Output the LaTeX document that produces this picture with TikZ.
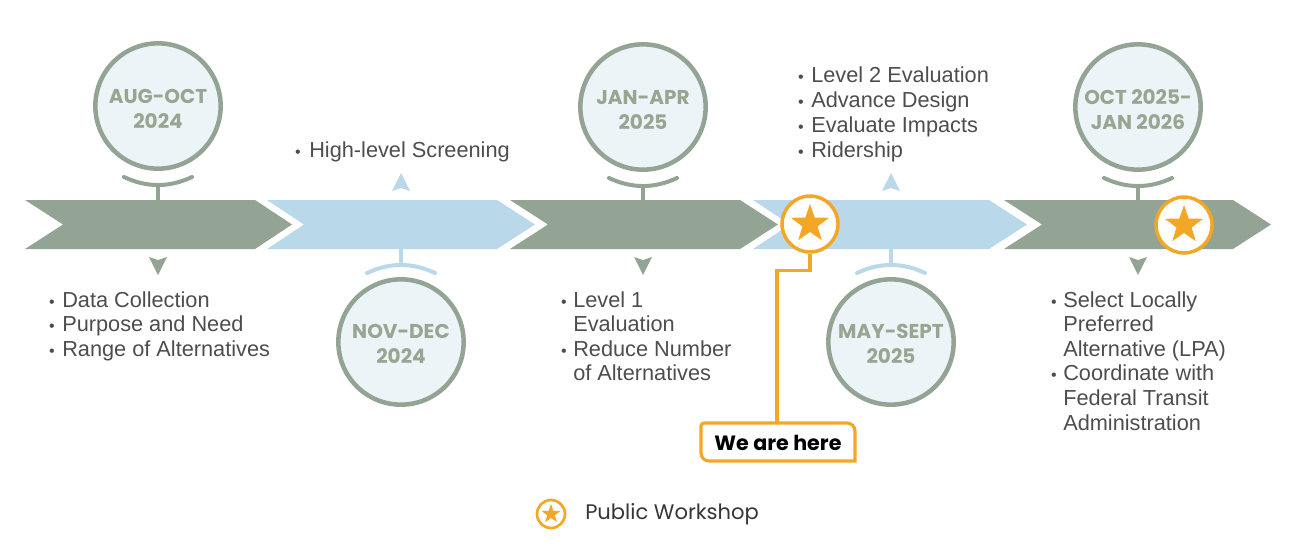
\documentclass[tikz,border=0pt]{standalone}
\usepackage{fontspec}
\setmainfont{Liberation Sans}
\newfontfamily\gothic{Poppins}
\usetikzlibrary{shapes.geometric,calc}
\definecolor{cgray}{HTML}{93A394}
\definecolor{cblue}{HTML}{B9D8EA}
\definecolor{cfill}{HTML}{ECF4F8}
\definecolor{cdate}{HTML}{97A591}
\definecolor{corange}{HTML}{F2A726}
\definecolor{ctext}{HTML}{4D4D4D}
\tikzset{
 datec/.style={circle, draw=cgray, fill=cfill, line width=3.4pt, minimum size=94pt, inner sep=0pt},
 datet/.style={inner sep=0pt, align=center, text=cdate, font=\gothic\bfseries\fontsize{15}{18.75}\selectfont},
 starc/.style={circle, draw=corange, fill=white, line width=2.6pt, minimum size=42pt, inner sep=0pt},
 starg/.style={star, star points=5, star point ratio=2.5, fill=corange, inner sep=0pt, minimum size=30pt},
 txt/.style={anchor=base west, inner sep=0pt, text=ctext, font=\fontsize{16.3}{18}\selectfont},
 bul/.style={anchor=base, inner sep=0pt, text=ctext, font=\fontsize{12}{12}\selectfont},
 stemline/.style={line width=3pt, line cap=round},
 orangeline/.style={corange, line width=2.3pt},
}
\newcommand\chev[5]{\fill[#5] (#1,200) -- (#3,200) -- (#4,224.5) -- (#3,249) -- (#1,249) -- (#2,224.5) -- cycle;}
\newcommand\stemabove[3]{%
 \draw[#3, stemline] (#1-34,#2+71) .. controls (#1-11.3,#2+81.7) and (#1+11.3,#2+81.7) .. (#1+34,#2+71);
 \draw[#3, line width=3pt] (#1,#2+79) -- (#1,201);}
\newcommand\stembelow[3]{%
 \draw[#3, stemline] (#1-34,#2-69) .. controls (#1-11.3,#2-79.7) and (#1+11.3,#2-79.7) .. (#1+34,#2-69);
 \draw[#3, line width=3pt] (#1,#2-77) -- (#1,248);}
\newcommand\downarr[2]{\fill[#2] (#1-9,257) -- (#1,260) -- (#1+9,257) -- (#1,275) -- cycle;}
\newcommand\uparr[2]{\fill[#2] (#1-9,191) -- (#1,188) -- (#1+9,191) -- (#1,173) -- cycle;}
\begin{document}
\begin{tikzpicture}[x=0.75pt,y=-0.75pt]
\useasboundingbox (0,0) rectangle (1301,554);
% chevrons
\chev{25}{63}{255}{292}{cgray}
\chev{267}{304}{497}{535}{cblue}
\chev{510}{548}{740}{778}{cgray}
\chev{753}{790}{989}{1027}{cblue}
\chev{1004}{1042}{1233}{1271}{cgray}
% stems
\stemabove{158}{106}{cgray}
\stembelow{401}{342}{cblue}
\stemabove{643}{107}{cgray}
\stembelow{891}{342}{cblue}
\stemabove{1138}{107}{cgray}
% date circles
\node[datec] (c1) at (158,106) {};
\node[datet] (d1) at (158,109) {AUG-OCT\\2024};
\node[datec] (c2) at (401,342) {};
\node[datet] (d2) at (401,344) {NOV-DEC\\2024};
\node[datec] (c3) at (643,107) {};
\node[datet] (d3) at (643,110) {JAN-APR\\2025};
\node[datec] (c4) at (891,342) {};
\node[datet] (d4) at (891,344) {MAY-SEPT\\2025};
\node[datec] (c5) at (1138,107) {};
\node[datet] (d5) at (1138,110) {OCT 2025-\\JAN 2026};
% arrows
\downarr{158}{cgray}
\uparr{401}{cblue}
\downarr{643}{cgray}
\uparr{891}{cblue}
\downarr{1138}{cgray}
% column 1
\node[bul] (b11) at (52,307) {•};
\node[txt] (t11) at (62,307) {Data Collection};
\node[bul] (b12) at (52,331.5) {•};
\node[txt] (t12) at (62,331.5) {Purpose and Need};
\node[bul] (b13) at (52,356) {•};
\node[txt] (t13) at (62,356) {Range of Alternatives};
% column 2
\node[bul] (b21) at (298,157) {•};
\node[txt] (t21) at (309,157) {High-level Screening};
% column 3
\node[bul] (b31) at (564,307) {•};
\node[txt] (t31) at (573,307) {Level 1};
\node[txt] (t32) at (573,331.6) {Evaluation};
\node[bul] (b33) at (564,356.2) {•};
\node[txt] (t33) at (573,356.2) {Reduce Number};
\node[txt] (t34) at (573,380.8) {of Alternatives};
% column 4
\node[bul] (b41) at (801,82) {•};
\node[txt] (t41) at (811,82) {Level 2 Evaluation};
\node[bul] (b42) at (801,107) {•};
\node[txt] (t42) at (811,107) {Advance Design};
\node[bul] (b43) at (801,132) {•};
\node[txt] (t43) at (811,132) {Evaluate Impacts};
\node[bul] (b44) at (801,157) {•};
\node[txt] (t44) at (811,157) {Ridership};
% column 5
\node[bul] (b51) at (1054,307) {•};
\node[txt] (t51) at (1063,307) {Select Locally};
\node[txt] (t52) at (1063,331.6) {Preferred};
\node[txt] (t53) at (1063,356.2) {Alternative (LPA)};
\node[bul] (b54) at (1054,380.8) {•};
\node[txt] (t54) at (1063,380.8) {Coordinate with};
\node[txt] (t55) at (1063,405.4) {Federal Transit};
\node[txt] (t56) at (1063,430) {Administration};
% workshop stars
\node[starc] (s1) at (810,224) {};
\node[starg] (g1) at (s1) {};
\node[starc] (s2) at (1184,225) {};
\node[starg] (g2) at (s2) {};
% we are here
\node[inner sep=0pt, font=\gothic\bfseries\fontsize{15.5}{18}\selectfont, text=black] (here) at (778,443) {We are here};
\coordinate (boxtop) at (777,423);
\draw[orangeline] (704,423) -- (847,423) arc[start angle=-90, end angle=0, radius=8] -- (855,461) -- (709,461) arc[start angle=90, end angle=180, radius=8] -- (701,426) arc[start angle=180, end angle=270, radius=3] -- cycle;
\draw[orangeline] (s1.south) -- ++(0,17) -| (boxtop);
% legend
\node[circle, draw=corange, fill=white, line width=2pt, minimum size=21pt, inner sep=0pt] (ls) at (551,514) {};
\node[star, star points=5, star point ratio=2.5, fill=corange, inner sep=0pt, minimum size=15pt] (lg) at (ls) {};
\node[anchor=west, inner sep=0pt, font=\gothic\fontsize{15.8}{18}\selectfont, text=ctext!70!black] (lt) at (585,514) {Public Workshop};
\end{tikzpicture}
\end{document}
